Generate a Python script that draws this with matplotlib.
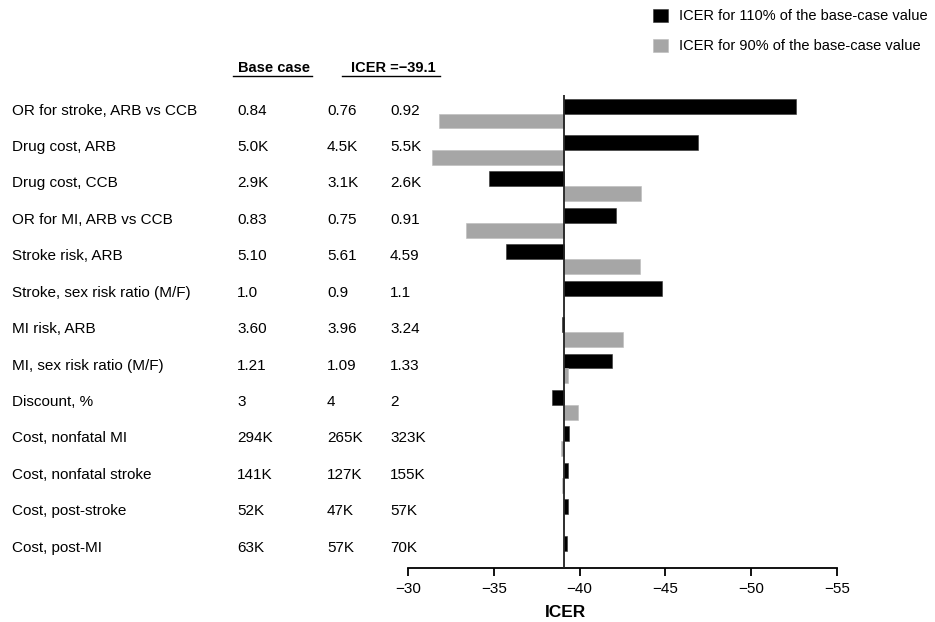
import matplotlib
matplotlib.use("Agg")
import matplotlib.pyplot as plt
from matplotlib.lines import Line2D
from matplotlib.transforms import blended_transform_factory
import numpy as np

plt.rcParams['font.family'] = ['Liberation Sans', 'DejaVu Sans']

# parameters, base case / 90% / 110% input values
params = ['OR for stroke, ARB vs CCB', 'Drug cost, ARB', 'Drug cost, CCB',
          'OR for MI, ARB vs CCB', 'Stroke risk, ARB', 'Stroke, sex risk ratio (M/F)',
          'MI risk, ARB', 'MI, sex risk ratio (M/F)', 'Discount, %',
          'Cost, nonfatal MI', 'Cost, nonfatal stroke', 'Cost, post-stroke', 'Cost, post-MI']
base_vals = ['0.84', '5.0K', '2.9K', '0.83', '5.10', '1.0', '3.60', '1.21', '3',
             '294K', '141K', '52K', '63K']
low_vals = ['0.76', '4.5K', '3.1K', '0.75', '5.61', '0.9', '3.96', '1.09', '4',
            '265K', '127K', '47K', '57K']
high_vals = ['0.92', '5.5K', '2.6K', '0.91', '4.59', '1.1', '3.24', '1.33', '2',
             '323K', '155K', '57K', '70K']

base_icer = -39.1
# ICER results
icer_110 = [-52.6, -46.9, -34.7, -42.1, -35.7, -44.8, -39.0, -41.9, -38.4,
            -39.4, -39.35, -39.3, -39.25]
icer_90 = [-31.8, -31.4, -43.6, -33.4, -43.5, -39.1, -42.5, -39.3, -39.9,
           -38.9, -39.0, -39.05, -39.1]

W, H = 935, 622
fig = plt.figure(figsize=(W / 100, H / 100), dpi=100)
ax = fig.add_axes([408 / W, 1 - 568 / H, (837 - 408) / W, (568 - 95) / H])

y = np.arange(len(params))
bh = 0.41
black = '#000000'
grey = '#a6a6a6'

b1 = ax.barh(y - bh / 2, np.array(icer_110) - base_icer, left=base_icer, height=bh,
             color=black, edgecolor='#333333', linewidth=0.4)
b2 = ax.barh(y + bh / 2, np.array(icer_90) - base_icer, left=base_icer, height=bh,
             color=grey, edgecolor='#bbbbbb', linewidth=0.4)

ax.axvline(base_icer, color='#222222', lw=1.3, zorder=3)

ax.set_xlim(-30, -55)
ax.set_ylim(len(params) - 1 + 0.48, -0.51)
ax.set_xticks([-30, -35, -40, -45, -50, -55])
ax.set_xticklabels(['\u221230', '\u221235', '\u221240', '\u221245', '\u221250', '\u221255'])
ax.set_yticks([])
for s in ['top', 'right', 'left']:
    ax.spines[s].set_visible(False)
ax.spines['bottom'].set_linewidth(1.3)
ax.tick_params(axis='x', direction='out', length=6, width=1.3, labelsize=11, pad=4)

ax.set_xlabel('ICER', fontsize=12.5, fontweight='bold')
ax.xaxis.set_label_coords((566 - 408) / (837 - 408), -0.078)

# table on the left
tr = blended_transform_factory(fig.transFigure, ax.transData)
cols = [(12, params), (237, base_vals), (327, low_vals), (390, high_vals)]
for xpx, vals in cols:
    for i, v in enumerate(vals):
        fig.text(xpx / W, i - 0.08, v, transform=tr, fontsize=11, va='center', ha='left')

# headers with underline
fig.text(238 / W, 1 - 68 / H, 'Base case', fontsize=10.5, fontweight='bold', va='center')
fig.text(351 / W, 1 - 68 / H, 'ICER =\u221239.1', fontsize=10.5, fontweight='bold', va='center')
fig.add_artist(Line2D([233 / W, 312 / W], [1 - 76 / H] * 2, color='black', lw=1))
fig.add_artist(Line2D([342 / W, 440 / W], [1 - 76 / H] * 2, color='black', lw=1))

fig.legend([b1, b2], ['ICER for 110% of the base-case value', 'ICER for 90% of the base-case value'],
           loc='upper left', bbox_to_anchor=(640 / W, 1.007), frameon=False, fontsize=10.5,
           handlelength=1.0, handleheight=1.0, handletextpad=0.75, labelspacing=1.05)

fig.savefig('out.png', dpi=100)
